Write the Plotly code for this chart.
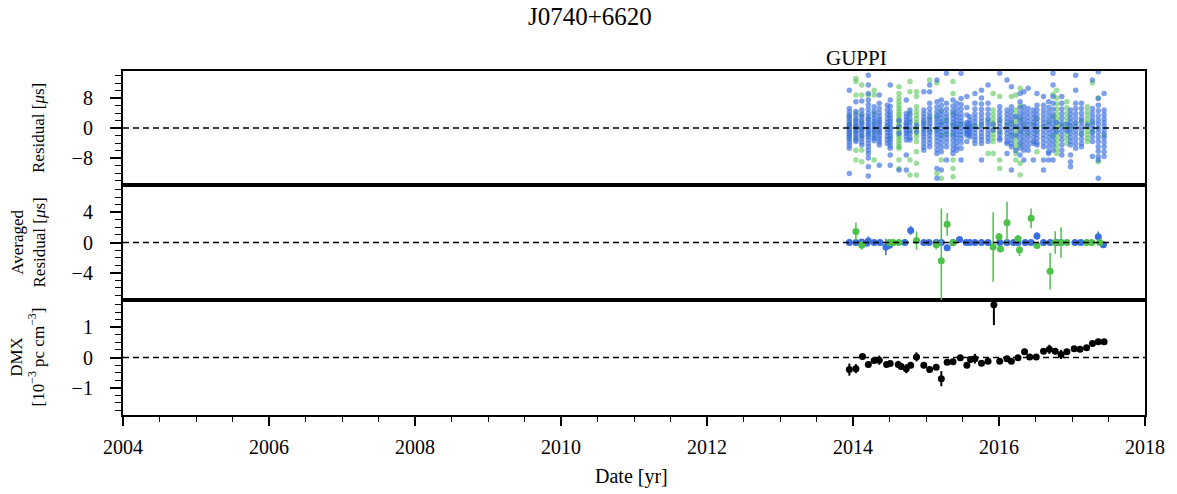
import plotly.graph_objects as go

# ---------------- data ----------------
# Top panel: per-epoch residuals [us]
toa_epochs = [2013.95, 2014.04, 2014.12, 2014.21, 2014.29, 2014.36, 2014.47, 2014.51, 2014.63, 2014.73,
              2014.78, 2014.87, 2014.97, 2015.05, 2015.15, 2015.21, 2015.28, 2015.37, 2015.42, 2015.48,
              2015.56, 2015.60, 2015.67, 2015.76, 2015.85, 2015.92, 2016.01, 2016.11, 2016.17, 2016.23,
              2016.29, 2016.34, 2016.40, 2016.47, 2016.52, 2016.61, 2016.68, 2016.74, 2016.79, 2016.86,
              2016.93, 2016.98, 2017.05, 2017.13, 2017.21, 2017.28, 2017.36, 2017.44]

toa_blue = [
    [10.1, 5.2, 4.3, 3.5, 2.8, 2.1, 1.5, 0.9, 0.4, -0.1, -0.6, -1.1, -1.7, -2.3, -3.0, -3.8, -4.6, -5.4, -12.1],
    [7.0, 4.4, 3.4, 2.5, 1.8, 1.1, 0.5, 0.0, -0.5, -1.1, -1.7, -2.4, -3.1, -3.6],
    [7.2, 4.8, 3.7, 2.9, 2.0, 1.3, 0.6, 0.0, -0.6, -1.3, -2.0, -2.8, -3.7, -4.5],
    [14.1, 11.5, 9.2, 7.5, 6.2, 5.0, 3.9, 3.0, 2.2, 1.5, 0.8, 0.2, -0.4, -1.0, -1.7, -2.4, -3.2, -4.1, -5.0, -5.9, -6.8, -8.0, -10.3, -12.8],
    [5.7, 4.5, 3.5, 2.6, 1.8, 1.0, 0.3, -0.4, -1.1, -1.9, -2.7, -3.4],
    [8.8, 6.6, 5.2, 4.1, 3.1, 2.3, 1.5, 0.8, 0.1, -0.6, -1.3, -2.1, -2.9, -3.7, -4.5, -9.9],
    [6.1, 4.8, 3.6, 2.5, 1.5, 0.6, -0.3, -1.2, -2.2, -3.1, -4.1],
    [11.5, 7.5, 5.8, 4.5, 3.5, 2.6, 1.8, 1.0, 0.3, -0.4, -1.2, -2.0, -2.9, -3.8, -4.7, -5.4, -7.2, -9.9],
    [2.0, 0.4, -1.4, -11.2],
    [7.5, 3.9, 3.0, 2.2, 1.4, 0.7, 0.0, -0.7, -1.4, -2.2, -3.2, -7.2, -11.2],
    [4.8, 3.6, 2.5, 1.5, 0.5, -0.5, -1.5, -2.6, -3.2],
    [0.8, -1.0],
    [9.7, 4.8, 3.8, 2.9, 2.1, 1.3, 0.6, -0.1, -0.8, -1.5, -2.3, -3.2, -4.2, -5.1, -5.9],
    [11.5, 9.7, 6.6, 5.2, 4.0, 3.0, 2.1, 1.3, 0.5, -0.3, -1.1, -2.0, -3.0, -4.0, -5.0],
    [12.8, 7.0, 5.6, 4.4, 3.4, 2.5, 1.6, 0.8, 0.0, -0.8, -1.6, -2.5, -3.5, -4.6, -5.8, -6.8, -10.8, -13.4],
    [7.5, 6.0, 4.7, 3.6, 2.6, 1.7, 0.8, -0.1, -1.0, -1.9, -2.9, -4.0, -5.1, -6.3, -11.2],
    [14.6, 6.6, 5.1, 3.9, 2.9, 1.9, 1.0, 0.1, -0.8, -1.7, -2.7, -3.8, -5.0, -8.5],
    [7.5, 5.9, 4.6, 3.5, 2.5, 1.5, 0.6, -0.3, -1.2, -2.2, -3.3, -4.5, -5.7, -6.8],
    [6.6, 5.2, 4.0, 3.0, 2.0, 1.1, 0.2, -0.7, -1.7, -2.7, -3.8, -4.9, -5.9],
    [14.6, 7.9, 6.3, 5.0, 3.8, 2.8, 1.8, 0.9, 0.0, -0.9, -1.8, -2.8, -3.9, -5.4, -8.5],
    [8.4, 5.5, 3.5, 1.5, 1.0, 0.5, 0.0, -0.5, -1.0, -1.5, -1.9, -3.6],
    [3.0, 2.0, 1.2, 0.6, 0.0, -0.6, -1.2, -1.8, -2.3],
    [9.2, 6.6, 5.1, 3.8, 2.7, 1.7, 0.7, -0.3, -1.3, -2.3, -3.2, -4.1],
    [10.1, 8.0, 6.4, 5.0, 3.8, 2.7, 1.7, 0.7, -0.3, -1.3, -2.3, -3.2, -4.1, -8.5],
    [11.5, 6.6, 5.0, 3.7, 2.5, 1.4, 0.4, -0.6, -1.6, -2.6, -3.6],
    [1.0, -0.5],
    [14.6, 5.7, 4.4, 3.3, 2.3, 1.3, 0.3, -0.7, -1.7, -2.7, -3.2],
    [12.8, 4.8, 3.7, 2.6, 1.6, 0.6, -0.4, -1.4, -2.5, -3.6, -4.1, -6.8],
    [11.0, 5.7, 4.4, 3.2, 2.1, 1.1, 0.1, -0.9, -2.0, -3.1, -4.2, -5.0, -11.2],
    [3.0, 0.4, -2.0, -6.0],
    [9.2, 7.0, 5.4, 4.0, 2.8, 1.7, 0.6, -0.5, -1.6, -2.8, -4.0, -5.3, -7.2],
    [9.7, 5.7, 4.4, 3.2, 2.1, 1.0, -0.1, -1.2, -2.4, -3.6, -4.8, -5.9, -8.5],
    [10.6, 5.2, 4.0, 2.9, 1.8, 0.8, -0.2, -1.2, -2.3, -3.5, -4.7, -5.9],
    [4.8, 3.7, 2.6, 1.6, 0.6, -0.4, -1.4, -2.5, -3.6, -4.1, -8.5],
    [9.2, 6.1, 4.8, 3.6, 2.5, 1.4, 0.4, -0.6, -1.7, -2.8, -3.9, -4.5],
    [8.4, 6.1, 4.8, 3.6, 2.5, 1.4, 0.4, -0.6, -1.7, -2.8, -3.9, -5.0, -8.5, -11.2],
    [7.0, 5.5, 4.2, 3.0, 1.9, 0.8, -0.3, -1.4, -2.5, -3.7, -5.0, -6.3, -6.8, -8.5],
    [14.6, 11.5, 8.4, 6.6, 5.0, 3.6, 2.4, 1.2, 0.1, -1.0, -2.2, -3.4, -4.6, -5.9, -8.5],
    [1.5, -1.0],
    [8.4, 6.6, 5.1, 3.8, 2.6, 1.4, 0.3, -0.8, -2.0, -3.2, -4.5, -5.9, -7.2],
    [1.0, -0.8],
    [4.8, 3.7, 2.6, 1.6, 0.6, -0.4, -1.4, -2.5, -3.6, -4.5, -7.2, -9.0, -10.3],
    [14.1, 10.1, 6.6, 5.2, 3.9, 2.7, 1.5, 0.4, -0.7, -1.8, -3.0, -4.2, -5.4],
    [6.6, 5.2, 3.9, 2.7, 1.6, 0.5, -0.6, -1.7, -2.9, -4.1, -5.0],
    [0.8],
    [12.8, 5.2, 4.0, 2.9, 1.8, 0.8, -0.2, -1.2, -2.3, -3.6, -7.6],
    [15.0, 7.9, 6.1, 4.6, 3.3, 2.1, 1.0, -0.1, -1.2, -2.4, -3.6, -4.9, -6.2, -7.6, -8.5, -13.4],
    [9.2, 4.8, 3.6, 2.5, 1.5, 0.5, -0.5, -1.5, -2.6, -3.8, -5.0, -6.3, -7.6],
]

toa_green = [
    [3.1, 0.8, -1.5, -2.6],
    [13.2, 12.4, 8.8, 4.0, 2.2, 0.6, -1.0, -2.8, -5.9, -8.5],
    [11.5, 8.8, 3.5, 1.5, -0.4, -2.2, -5.9, -9.0],
    [8.8, 2.5, -1.5],
    [10.1, 8.8, 4.0, 1.2, -0.8, -2.4, -8.5],
    [1.9, -1.2],
    [0.5],
    [-2.5],
    [11.0, 9.2, 8.0, 7.0, 6.1, 5.2, 4.4, 3.7, 3.0, 2.3, 1.6, 0.9, 0.2, -0.5, -1.2, -1.9, -2.6, -3.4, -4.2, -5.0, -5.4, -8.5, -10.8],
    [1.0],
    [12.4, 9.7, 4.0, 1.8, -0.9, -8.5, -12.5],
    [9.7, 8.4, 5.7, 4.5, 3.4, 2.4, 1.4, 0.5, -0.4, -1.3, -2.3, -3.6, -6.3, -9.4, -12.5],
    [1.5],
    [12.8, 2.6, -0.7],
    [12.0, 3.0, -0.5, -12.1],
    [4.5, 1.2, -2.0, -8.5, -13.4],
    [2.2, -1.5],
    [12.4, 9.2, 4.0, 0.9, -1.8, -8.5, -10.8, -13.0],
    [0.4],
    [1.2],
    [],
    [0.3],
    [0.5],
    [1.0],
    [2.0, -6.8],
    [9.2, 4.8, 3.6, 2.5, 1.4, 0.4, -0.6, -1.6, -2.6, -3.6, -6.8],
    [8.4, 2.0, -1.2, -8.5, -10.8],
    [0.8],
    [8.4, 1.5, -1.8],
    [8.8, 4.8, 3.4, 2.1, 0.9, -0.3, -1.5, -2.8, -4.1, -5.3, -6.8, -8.5],
    [10.6, 6.0, 2.3, -1.0, -4.5, -9.4, -12.5],
    [0.9],
    [-1.5],
    [1.0],
    [2.5, -1.0, -6.3],
    [0.5],
    [1.5],
    [9.0, 3.0, -2.0],
    [10.1, 8.0, 6.4, 5.0, 3.7, 2.5, 1.3, 0.2, -0.9, -2.0, -3.2, -4.4, -5.6, -6.8],
    [0.8],
    [7.0, 5.4, 4.0, 2.8, 1.6, 0.5, -0.6, -1.7, -2.8, -4.1],
    [0.3],
    [1.2],
    [2.0, -1.5],
    [5.7, 4.5, 3.4, 2.3, 1.3, 0.3, -0.7, -1.7, -2.7, -3.6],
    [12.0, 1.5, -1.0],
    [8.0, -9.0],
    [-2.0],
]

# Middle panel: averaged residuals [us]
avg_blue_year = [2013.95, 2014.04, 2014.12, 2014.19, 2014.21, 2014.29, 2014.37, 2014.45, 2014.50, 2014.71,
                 2014.79, 2014.97, 2015.04, 2015.14, 2015.21, 2015.29, 2015.37, 2015.46, 2015.55, 2015.60,
                 2015.67, 2015.76, 2015.85, 2016.01, 2016.11, 2016.20, 2016.26, 2016.36, 2016.44, 2016.52,
                 2016.61, 2016.70, 2016.79, 2016.85, 2017.04, 2017.12, 2017.36, 2017.43]
avg_blue_val = [0.0, 0.0, 0.05, -0.1, 0.2, 0.0, 0.0, -0.6, -0.35, 0.0,
                1.6, 0.0, 0.0, 0.0, 0.0, -0.7, 0.0, 0.4, 0.0, 0.0,
                0.0, 0.0, 0.0, 0.0, 0.0, 0.0, 0.0, 0.0, 0.0, 0.85,
                0.0, 0.0, 0.0, 0.0, 0.0, 0.0, 0.75, -0.3]
avg_blue_err = [0.15, 0.15, 0.4, 0.2, 0.6, 0.15, 0.15, 1.1, 0.3, 0.15,
                0.6, 0.15, 0.15, 0.15, 0.15, 0.3, 0.15, 0.3, 0.15, 0.15,
                0.15, 0.15, 0.15, 0.15, 0.15, 0.15, 0.15, 0.15, 0.15, 0.5,
                0.15, 0.15, 0.15, 0.15, 0.15, 0.15, 0.7, 0.3]

avg_green_year = [2014.04, 2014.12, 2014.50, 2014.55, 2014.63, 2014.87, 2015.14, 2015.21, 2015.29, 2015.37,
                  2015.92, 2016.00, 2016.02, 2016.11, 2016.26, 2016.28, 2016.44, 2016.52, 2016.70, 2016.77,
                  2016.85, 2016.93, 2017.20, 2017.27, 2017.38]
avg_green_val = [1.45, -0.35, 0.0, 0.0, 0.0, 0.25, -0.3, -2.4, 2.4, 0.0,
                 -0.6, 0.75, -0.85, 2.6, 0.5, -1.0, 3.2, -0.4, -3.8, 0.0,
                 0.0, 0.0, 0.0, 0.0, 0.0]
avg_green_err = [1.2, 0.6, 0.3, 0.3, 0.3, 1.2, 0.6, 6.9, 1.5, 0.3,
                 4.6, 0.5, 0.4, 2.8, 0.5, 0.8, 1.3, 0.3, 2.4, 1.5,
                 2.0, 0.3, 0.3, 0.3, 0.3]

# Bottom panel: DMX [1e-3 pc cm^-3]
dmx_year = [2013.95, 2014.04, 2014.13, 2014.21, 2014.29, 2014.36, 2014.46, 2014.51, 2014.62, 2014.66,
            2014.73, 2014.79, 2014.87, 2014.97, 2015.05, 2015.14, 2015.21, 2015.29, 2015.37, 2015.47,
            2015.56, 2015.61, 2015.67, 2015.76, 2015.85, 2015.93, 2016.01, 2016.11, 2016.17, 2016.26,
            2016.35, 2016.42, 2016.51, 2016.61, 2016.69, 2016.77, 2016.85, 2016.93, 2017.03, 2017.11,
            2017.20, 2017.28, 2017.36, 2017.44]
dmx_val = [-0.40, -0.37, 0.03, -0.23, -0.10, -0.09, -0.23, -0.20, -0.23, -0.30,
           -0.37, -0.26, 0.02, -0.26, -0.40, -0.32, -0.70, -0.16, -0.14, -0.01,
           -0.26, -0.07, -0.04, -0.19, -0.12, 1.74, -0.12, -0.04, -0.12, -0.01,
           0.19, 0.02, 0.02, 0.21, 0.27, 0.21, 0.10, 0.19, 0.29, 0.27,
           0.32, 0.46, 0.52, 0.52]
dmx_err = [0.20, 0.15, 0.06, 0.10, 0.06, 0.15, 0.06, 0.06, 0.12, 0.06,
           0.15, 0.06, 0.15, 0.06, 0.06, 0.06, 0.25, 0.06, 0.06, 0.06,
           0.08, 0.10, 0.16, 0.08, 0.06, 0.67, 0.06, 0.06, 0.06, 0.06,
           0.06, 0.06, 0.06, 0.06, 0.15, 0.10, 0.15, 0.06, 0.06, 0.06,
           0.06, 0.06, 0.06, 0.06]

x_ticks = [2004, 2006, 2008, 2010, 2012, 2014, 2016, 2018]

# ---------------- style ----------------
BLUE = "#3a6ede"
GREEN = "#4cc24a"
FONT = "Liberation Serif"

W, H = 1177, 494
ML, MT = 123, 71
PW, PH = 1022, 344

fig = go.Figure()

# top panel scatter
gx, gy, bx, by = [], [], [], []
for ep, bl, gr in zip(toa_epochs, toa_blue, toa_green):
    bx += [ep] * len(bl); by += bl
    gx += [ep] * len(gr); gy += gr
fig.add_trace(go.Scatter(x=gx, y=gy, mode="markers", xaxis="x3", yaxis="y3",
                         marker=dict(size=5.5, color="rgba(76,194,74,0.55)", line=dict(width=0)),
                         showlegend=False))
fig.add_trace(go.Scatter(x=bx, y=by, mode="markers", xaxis="x3", yaxis="y3",
                         marker=dict(size=5.5, color="rgba(58,110,222,0.65)", line=dict(width=0)),
                         showlegend=False))

# middle panel
fig.add_trace(go.Scatter(x=avg_blue_year, y=avg_blue_val, mode="markers", xaxis="x2", yaxis="y2",
                         error_y=dict(type="data", array=avg_blue_err, thickness=1.5, width=0, color=BLUE),
                         marker=dict(size=7, color=BLUE, line=dict(width=0)), showlegend=False))
fig.add_trace(go.Scatter(x=avg_green_year, y=avg_green_val, mode="markers", xaxis="x2", yaxis="y2",
                         error_y=dict(type="data", array=avg_green_err, thickness=1.5, width=0, color=GREEN),
                         marker=dict(size=7, color=GREEN, line=dict(width=0)), showlegend=False))

# bottom panel
fig.add_trace(go.Scatter(x=dmx_year, y=dmx_val, mode="markers", xaxis="x", yaxis="y",
                         error_y=dict(type="data", array=dmx_err, thickness=2, width=0, color="black"),
                         marker=dict(size=7, color="black", line=dict(width=0)), showlegend=False))

# dashed zero lines
for yr in ["y", "y2", "y3"]:
    fig.add_shape(type="line", xref="paper", yref=yr, x0=0, x1=1, y0=0, y1=0,
                  line=dict(color="black", width=1.5, dash="6px,4px"), layer="above")

axis_common = dict(showline=True, linecolor="black", linewidth=2.2, mirror=True,
                   showgrid=False, zeroline=False)
tickfont = dict(family=FONT, size=20, color="black")

xa = dict(axis_common, range=[2004, 2018], tickvals=x_ticks, ticks="outside", ticklen=9,
          tickwidth=1.5, tickcolor="black", tickfont=tickfont, ticklabelstandoff=4,
          minor=dict(dtick=0.5, tick0=2004, ticks="outside", ticklen=5, tickwidth=1.2, tickcolor="black"))
xa_hidden = dict(axis_common, range=[2004, 2018], showticklabels=False, ticks="")


def ya(rng, major, minor_dt, dom):
    return dict(axis_common, range=rng, domain=dom, tickvals=major, ticks="outside", ticklen=11,
                tickwidth=1.5, tickcolor="black", tickfont=tickfont, ticklabelstandoff=13,
                minor=dict(dtick=minor_dt, tick0=0, ticks="outside", ticklen=6, tickwidth=1.2,
                           tickcolor="black"))


d1 = 115 / PH
d2 = 230 / PH

fig.update_layout(
    width=W, height=H,
    margin=dict(l=ML, r=W - ML - PW, t=MT, b=H - MT - PH),
    paper_bgcolor="white", plot_bgcolor="white",
    font=dict(family=FONT, color="black"),
    xaxis=dict(xa, anchor="y"),
    xaxis2=dict(xa_hidden, anchor="y2", matches="x"),
    xaxis3=dict(xa_hidden, anchor="y3", matches="x"),
    yaxis=ya([-1.9, 1.9], [-1, 0, 1], 0.25, [0, d1]),
    yaxis2=ya([-7.6, 7.6], [-4, 0, 4], 1, [d1, d2]),
    yaxis3=ya([-15.2, 15.2], [-8, 0, 8], 2, [d2, 1]),
)


def px_x(page_x):
    return (page_x - ML) / PW


def px_y(page_y):
    return 1 - (page_y - MT) / PH


ann = []
ann.append(dict(text="J0740+6620", xref="paper", yref="paper", x=px_x(590), y=px_y(17),
                xanchor="center", yanchor="middle", showarrow=False,
                font=dict(family=FONT, size=25)))
ann.append(dict(text="GUPPI", xref="paper", yref="paper", x=px_x(856), y=px_y(58),
                xanchor="center", yanchor="middle", showarrow=False,
                font=dict(family=FONT, size=21)))
ann.append(dict(text="Date [yr]", xref="paper", yref="paper", x=px_x(631), y=px_y(476),
                xanchor="center", yanchor="middle", showarrow=False,
                font=dict(family=FONT, size=20)))
ann.append(dict(text="Residual [<i>μ</i>s]", xref="paper", yref="paper", x=px_x(38),
                y=(d2 + 1) / 2, xanchor="center", yanchor="middle", textangle=-90, showarrow=False,
                font=dict(family=FONT, size=17)))
ann.append(dict(text="Averaged<br>Residual [<i>μ</i>s]", xref="paper", yref="paper",
                x=px_x(28), y=(d1 + d2) / 2, xanchor="center", yanchor="middle",
                textangle=-90, showarrow=False, font=dict(family=FONT, size=17)))
ann.append(dict(text="DMX<br>[10<sup>−3</sup> pc cm<sup>−3</sup>]", xref="paper", yref="paper",
                x=px_x(27), y=d1 / 2, xanchor="center", yanchor="middle",
                textangle=-90, showarrow=False, font=dict(family=FONT, size=17)))
fig.update_layout(annotations=ann)

# remove the default 8px page margin so the figure fills the window exactly
fig.write_html("out.html", config={"displayModeBar": False},
               post_script="document.body.style.margin='0px';document.body.style.overflow='hidden';")
